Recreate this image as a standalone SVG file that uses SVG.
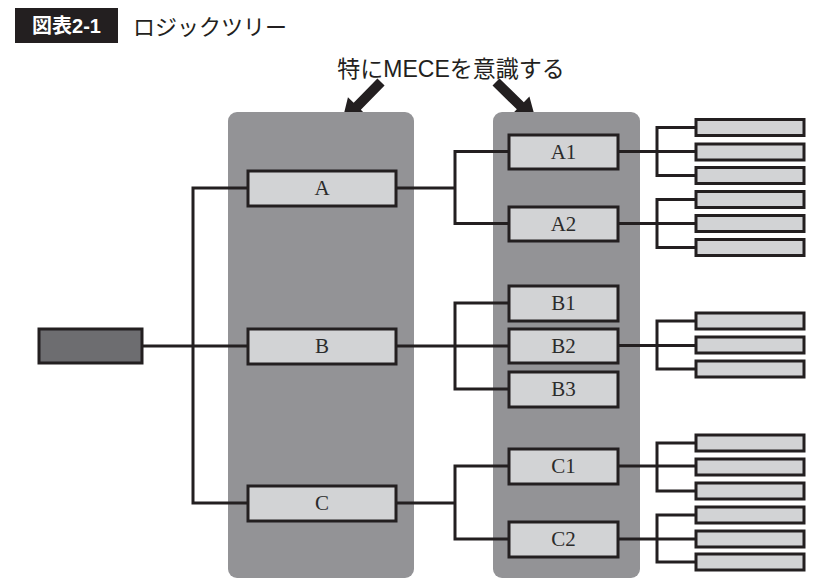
<svg xmlns="http://www.w3.org/2000/svg" xmlns:xlink="http://www.w3.org/1999/xlink" width="817" height="588" viewBox="0 0 817 588">
<defs>
<style>
.panel{fill:#939396}
.box{fill:#d2d3d5;stroke:#231f20;stroke-width:3}
.leaf{fill:#d2d3d5;stroke:#231f20;stroke-width:3}
.root{fill:#6d6d70;stroke:#231f20;stroke-width:3}
.lbl{font-family:"Liberation Serif","DejaVu Serif",serif;font-size:21px;fill:#2b2b2b;text-anchor:middle}
.con{fill:none;stroke:#231f20;stroke-width:3;stroke-linejoin:miter;stroke-linecap:square}
.jp{font-family:"Liberation Sans","Noto Sans CJK JP",sans-serif}
</style>
<polygon id="arrow" points="0,-5 34,-5 34,-13 56,0 34,13 34,5 0,5" fill="#231f20"/>
</defs>
<rect width="817" height="588" fill="#ffffff"/>
<g id="title">
<rect x="15" y="8" width="103" height="35" fill="#231f20"/>
<text x="66.5" y="33" class="jp" font-size="20" font-weight="bold" fill="#ffffff" text-anchor="middle">図表2-1</text>
<text x="133" y="35" class="jp" font-size="22" fill="#231f20">ロジックツリー</text>
</g>
<g id="note">
<text x="451" y="77" class="jp" font-size="23" fill="#231f20" text-anchor="middle">特にMECEを意識する</text>
<use xlink:href="#arrow" transform="translate(381,82) rotate(134.3)"/>
<use xlink:href="#arrow" transform="translate(496,82) rotate(44.3)"/>
</g>
<g id="panels">
<rect class="panel" x="228" y="112" width="186" height="466" rx="9"/>
<rect class="panel" x="493" y="112" width="147" height="466" rx="9"/>
</g>
<g id="connectors">
<path class="con" d="M142,346 H248 M193,188 V503 M193,188 H248 M193,503 H248"/>
<path class="con" d="M396,188 H455 M455,151.5 V223.5 M455,151.5 H508 M455,223.5 H508"/>
<path class="con" d="M396,346 H508 M455,303 V389 M455,303 H508 M455,389 H508"/>
<path class="con" d="M396,503 H455 M455,466 V539 M455,466 H508 M455,539 H508"/>
<path class="con" d="M618,151.5 H696 M657,127.5 V175.5 M657,127.5 H696 M657,175.5 H696"/>
<path class="con" d="M618,223.5 H696 M657,199.5 V247.5 M657,199.5 H696 M657,247.5 H696"/>
<path class="con" d="M618,345.5 H696 M657,321 V369 M657,321 H696 M657,369 H696"/>
<path class="con" d="M618,466 H696 M657,443 V491 M657,443 H696 M657,491 H696"/>
<path class="con" d="M618,539 H696 M657,515 V562 M657,515 H696 M657,562 H696"/>
</g>
<g id="root"><rect class="root" x="39" y="329" width="103" height="34"/></g>
<g id="A"><rect class="box" x="248" y="171" width="148" height="35"/><text class="lbl" x="322" y="195">A</text></g>
<g id="B"><rect class="box" x="248" y="329" width="148" height="35"/><text class="lbl" x="322" y="353">B</text></g>
<g id="C"><rect class="box" x="248" y="486" width="148" height="35"/><text class="lbl" x="322" y="510">C</text></g>
<g id="A1"><rect class="box" x="509" y="135" width="109" height="34"/><text class="lbl" x="563.5" y="159">A1</text></g>
<g id="A2"><rect class="box" x="509" y="207" width="109" height="34"/><text class="lbl" x="563.5" y="231">A2</text></g>
<g id="B1"><rect class="box" x="509" y="286" width="109" height="35"/><text class="lbl" x="563.5" y="310">B1</text></g>
<g id="B2"><rect class="box" x="509" y="329" width="109" height="34"/><text class="lbl" x="563.5" y="353">B2</text></g>
<g id="B3"><rect class="box" x="509" y="372" width="109" height="35"/><text class="lbl" x="563.5" y="396">B3</text></g>
<g id="C1"><rect class="box" x="509" y="449" width="109" height="35"/><text class="lbl" x="563.5" y="473">C1</text></g>
<g id="C2"><rect class="box" x="509" y="522" width="109" height="35"/><text class="lbl" x="563.5" y="546">C2</text></g>
<g id="leavesA1">
<rect class="leaf" x="696" y="119.5" width="108" height="16"/>
<rect class="leaf" x="696" y="144" width="108" height="16"/>
<rect class="leaf" x="696" y="167.5" width="108" height="16"/>
</g>
<g id="leavesA2">
<rect class="leaf" x="696" y="191.5" width="108" height="16"/>
<rect class="leaf" x="696" y="215.5" width="108" height="16"/>
<rect class="leaf" x="696" y="239.5" width="108" height="16"/>
</g>
<g id="leavesB2">
<rect class="leaf" x="696" y="313" width="108" height="16"/>
<rect class="leaf" x="696" y="337" width="108" height="16"/>
<rect class="leaf" x="696" y="361" width="108" height="16"/>
</g>
<g id="leavesC1">
<rect class="leaf" x="696" y="435" width="108" height="16"/>
<rect class="leaf" x="696" y="459" width="108" height="16"/>
<rect class="leaf" x="696" y="483" width="108" height="16"/>
</g>
<g id="leavesC2">
<rect class="leaf" x="696" y="507" width="108" height="16"/>
<rect class="leaf" x="696" y="531" width="108" height="16"/>
<rect class="leaf" x="696" y="554" width="108" height="16"/>
</g>
</svg>
